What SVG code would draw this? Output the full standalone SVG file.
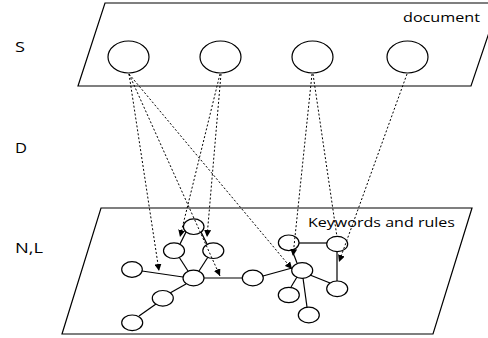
<svg xmlns="http://www.w3.org/2000/svg" width="488" height="338" viewBox="0 0 488 338">
  <style>
    .plane { fill: #ffffff; stroke: #000000; stroke-width: 1.2; }
    .node { fill: #ffffff; stroke: #000000; stroke-width: 1.2; }
    .edge { stroke: #000000; stroke-width: 1.2; fill: none; }
    .link { stroke: #000000; stroke-width: 1; stroke-dasharray: 2 2; fill: none; }
    .label { font-family: "Open Sans", "Liberation Sans", Arial, sans-serif; fill: #000000; }
  </style>
  <defs>
    <marker id="arrow" viewBox="0 0 10 10" refX="10" refY="5" markerWidth="7" markerHeight="7" markerUnits="userSpaceOnUse" orient="auto">
      <path d="M0,0 L10,5 L0,10 Z" fill="#000000"/>
    </marker>
  </defs>

  <rect width="488" height="338" fill="#ffffff"/>

  <!-- layer labels -->
  <g id="layer-labels">
    <text class="label" x="15" y="52" font-size="14" textLength="10" lengthAdjust="spacingAndGlyphs">S</text>
    <text class="label" x="15" y="153" font-size="14" textLength="12" lengthAdjust="spacingAndGlyphs">D</text>
    <text class="label" x="15" y="253" font-size="14" textLength="28" lengthAdjust="spacingAndGlyphs">N,L</text>
  </g>

  <!-- document plane -->
  <g id="document-plane">
    <polygon class="plane" points="105,3 499,3 471,86 78,86"/>
    <text class="label" x="403" y="22" font-size="13" textLength="77" lengthAdjust="spacingAndGlyphs">document</text>
  </g>

  <!-- keywords and rules plane -->
  <g id="keyword-plane">
    <polygon class="plane" points="101,208 472,208 433,334 62,334"/>
    <text class="label" x="308" y="227" font-size="13" textLength="147" lengthAdjust="spacingAndGlyphs">Keywords and rules</text>
  </g>

  <!-- solid edges between keyword nodes -->
  <g id="edges">
    <line class="edge" x1="186" y1="232" x2="180" y2="244"/>
    <line class="edge" x1="201" y1="232" x2="207" y2="244"/>
    <line class="edge" x1="179" y1="257" x2="188" y2="271"/>
    <line class="edge" x1="208" y1="257" x2="199" y2="271"/>
    <line class="edge" x1="142" y1="271" x2="183" y2="277"/>
    <line class="edge" x1="204" y1="278" x2="242" y2="278"/>
    <line class="edge" x1="186" y1="284" x2="170" y2="293"/>
    <line class="edge" x1="156" y1="304" x2="139" y2="316"/>
    <line class="edge" x1="263" y1="276" x2="292" y2="268"/>
    <line class="edge" x1="292" y1="250" x2="297" y2="263"/>
    <line class="edge" x1="299" y1="243" x2="327" y2="243"/>
    <line class="edge" x1="337" y1="252" x2="337" y2="281"/>
    <line class="edge" x1="310" y1="275" x2="330" y2="283"/>
    <line class="edge" x1="297" y1="277" x2="291" y2="287"/>
    <line class="edge" x1="303" y1="278" x2="307" y2="307"/>
  </g>

  <!-- document nodes -->
  <g id="doc-1"><ellipse class="node" cx="128.5" cy="57" rx="20.5" ry="16"/></g>
  <g id="doc-2"><ellipse class="node" cx="220.5" cy="57" rx="20.5" ry="16"/></g>
  <g id="doc-3"><ellipse class="node" cx="312.5" cy="57" rx="20.5" ry="16"/></g>
  <g id="doc-4"><ellipse class="node" cx="407.5" cy="57" rx="20.5" ry="16"/></g>

  <!-- keyword nodes, left cluster -->
  <g id="kw-top"><ellipse class="node" cx="193.7" cy="226.7" rx="10.3" ry="7.8"/></g>
  <g id="kw-left"><ellipse class="node" cx="174" cy="250.7" rx="10.5" ry="7.8"/></g>
  <g id="kw-right"><ellipse class="node" cx="213.3" cy="250.7" rx="10.5" ry="7.8"/></g>
  <g id="kw-hub"><ellipse class="node" cx="193.5" cy="278" rx="10.5" ry="7.8"/></g>
  <g id="kw-far-left"><ellipse class="node" cx="132" cy="269.5" rx="10.3" ry="7.8"/></g>
  <g id="kw-bridge"><ellipse class="node" cx="252.8" cy="278" rx="10.5" ry="7.8"/></g>
  <g id="kw-branch"><ellipse class="node" cx="162.8" cy="298.3" rx="10.5" ry="7.8"/></g>
  <g id="kw-leaf"><ellipse class="node" cx="132.2" cy="322.8" rx="10.5" ry="7.8"/></g>

  <!-- keyword nodes, right cluster -->
  <g id="kw-p"><ellipse class="node" cx="288.7" cy="242.8" rx="10.3" ry="7.8"/></g>
  <g id="kw-q"><ellipse class="node" cx="337.2" cy="244" rx="10.5" ry="7.6"/></g>
  <g id="kw-hub2"><ellipse class="node" cx="302.2" cy="270.5" rx="10.5" ry="7.8"/></g>
  <g id="kw-e"><ellipse class="node" cx="337.2" cy="288.8" rx="10.5" ry="7.8"/></g>
  <g id="kw-f"><ellipse class="node" cx="288.8" cy="295" rx="10.5" ry="7.7"/></g>
  <g id="kw-g"><ellipse class="node" cx="308.8" cy="315" rx="10.5" ry="7.8"/></g>

  <!-- dashed links from document nodes to keyword nodes, drawn over the nodes -->
  <g id="connectors">
    <line class="link" x1="129" y1="74" x2="159" y2="271" marker-end="url(#arrow)"/>
    <line class="link" x1="129" y1="74" x2="220" y2="276" marker-end="url(#arrow)"/>
    <line class="link" x1="129" y1="74" x2="292" y2="269" marker-end="url(#arrow)"/>
    <line class="link" x1="220" y1="74" x2="180" y2="237" marker-end="url(#arrow)"/>
    <line class="link" x1="221" y1="74" x2="207" y2="237" marker-end="url(#arrow)"/>
    <line class="link" x1="312" y1="74" x2="293" y2="256" marker-end="url(#arrow)"/>
    <line class="link" x1="313" y1="74" x2="337" y2="237"/>
    <line class="link" x1="407" y1="74" x2="339" y2="262" marker-end="url(#arrow)"/>
  </g>
</svg>
